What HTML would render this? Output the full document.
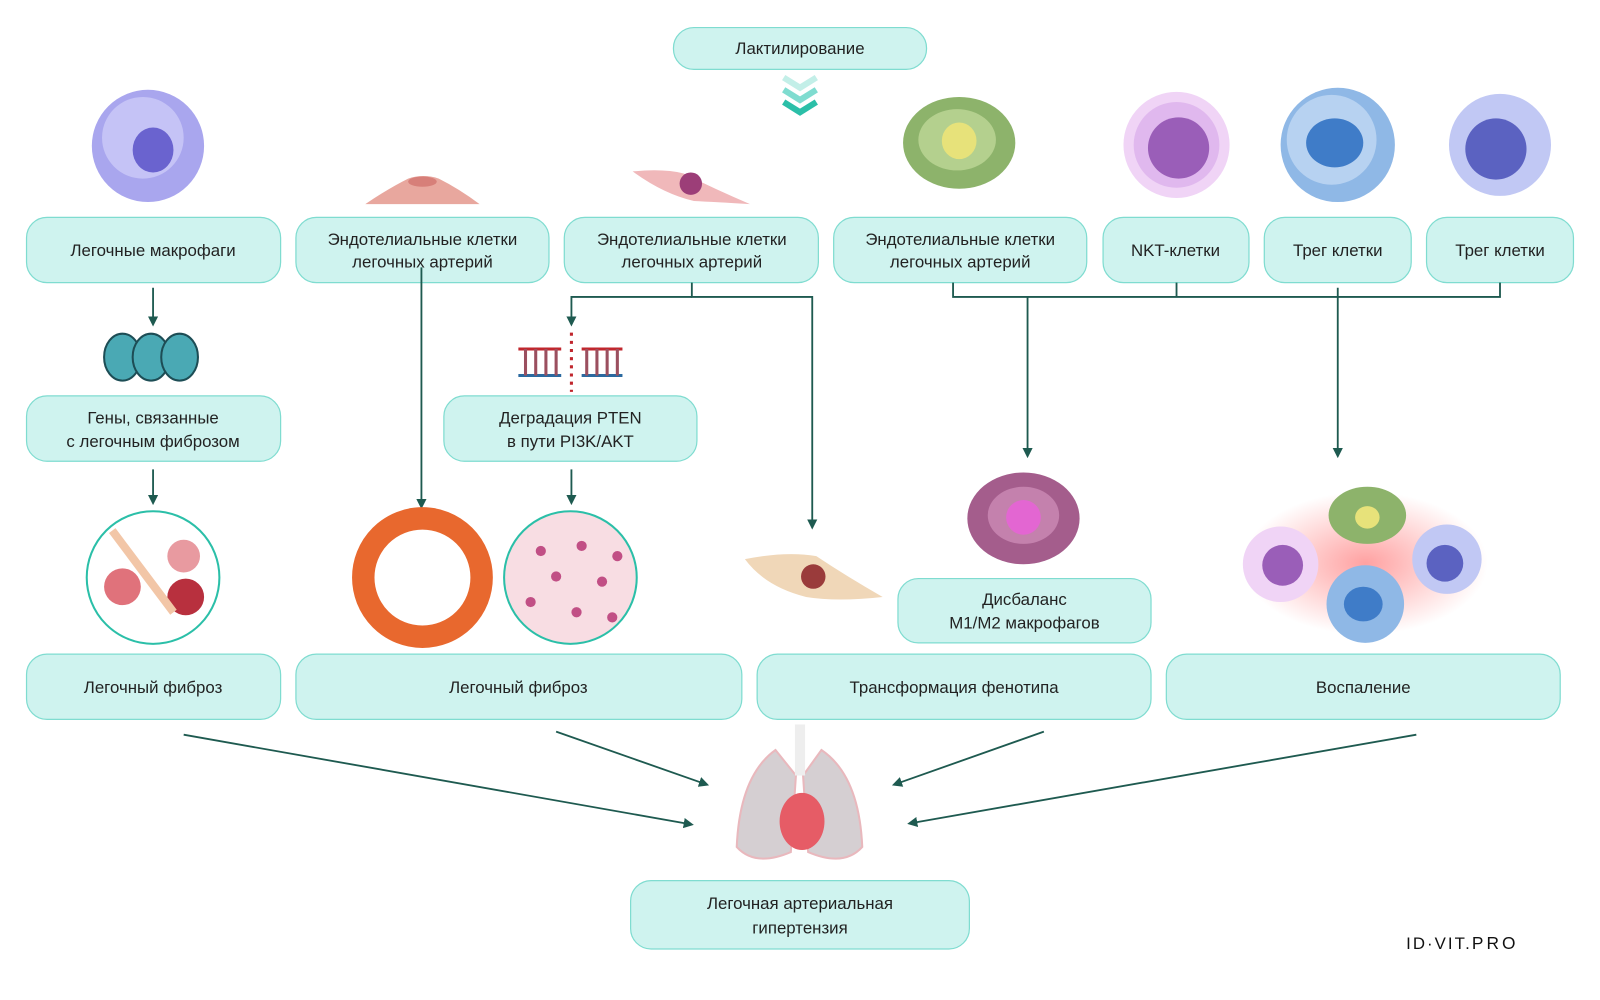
<!DOCTYPE html>
<html><head><meta charset="utf-8"><style>
html,body{margin:0;padding:0;background:#fff}
svg{display:block}
text{font-family:"Liberation Sans",sans-serif;fill:#222;font-size:16.5px}
</style></head><body>
<svg width="1600" height="1000" viewBox="0 0 1568 980" preserveAspectRatio="none" xmlns="http://www.w3.org/2000/svg">
<defs>
<marker id="a" markerWidth="10" markerHeight="10" refX="8" refY="5" orient="auto" markerUnits="userSpaceOnUse"><path d="M0,0 L10,5 L0,10 z" fill="#1e5a50"/></marker>
<radialGradient id="glow"><stop offset="0" stop-color="#f55" stop-opacity=".55"/><stop offset="1" stop-color="#f55" stop-opacity="0"/></radialGradient>
</defs>
<g fill="#cff3ef" stroke="#7fdcd0" stroke-width="1.2">
<rect x="660" y="27" width="248" height="41" rx="20"/>
<rect x="26" y="213" width="249" height="64" rx="20"/>
<rect x="290" y="213" width="248" height="64" rx="20"/>
<rect x="553" y="213" width="249" height="64" rx="20"/>
<rect x="817" y="213" width="248" height="64" rx="20"/>
<rect x="1081" y="213" width="143" height="64" rx="20"/>
<rect x="1239" y="213" width="144" height="64" rx="20"/>
<rect x="1398" y="213" width="144" height="64" rx="20"/>
<rect x="26" y="388" width="249" height="64" rx="20"/>
<rect x="435" y="388" width="248" height="64" rx="20"/>
<rect x="880" y="567" width="248" height="63" rx="20"/>
<rect x="26" y="641" width="249" height="64" rx="20"/>
<rect x="290" y="641" width="437" height="64" rx="20"/>
<rect x="742" y="641" width="386" height="64" rx="20"/>
<rect x="1143" y="641" width="386" height="64" rx="20"/>
<rect x="618" y="863" width="332" height="67" rx="20"/>
</g>
<g text-anchor="middle">
<text x="784" y="53">Лактилирование</text>
<text x="150" y="251">Легочные макрофаги</text>
<text x="414" y="240">Эндотелиальные клетки</text><text x="414" y="262">легочных артерий</text>
<text x="678" y="240">Эндотелиальные клетки</text><text x="678" y="262">легочных артерий</text>
<text x="941" y="240">Эндотелиальные клетки</text><text x="941" y="262">легочных артерий</text>
<text x="1152" y="251">NKT-клетки</text>
<text x="1311" y="251">Трег клетки</text>
<text x="1470" y="251">Трег клетки</text>
<text x="150" y="415">Гены, связанные</text><text x="150" y="438">с легочным фиброзом</text>
<text x="559" y="415">Деградация PTEN</text><text x="559" y="438">в пути PI3K/AKT</text>
<text x="1004" y="593">Дисбаланс</text><text x="1004" y="616">M1/M2 макрофагов</text>
<text x="150" y="679">Легочный фиброз</text>
<text x="508" y="679">Легочный фиброз</text>
<text x="935" y="679">Трансформация фенотипа</text>
<text x="1336" y="679">Воспаление</text>
<text x="784" y="891" font-size="18">Легочная артериальная</text><text x="784" y="915" font-size="18">гипертензия</text>
</g>
<g stroke="#1e5a50" stroke-width="1.8" fill="none">
<path d="M150 282V318" marker-end="url(#a)"/>
<path d="M150 460V493" marker-end="url(#a)"/>
<path d="M413 262V497" marker-end="url(#a)"/>
<path d="M678 277V291H796V517" marker-end="url(#a)"/>
<path d="M678 291H560V318" marker-end="url(#a)"/>
<path d="M560 460V493" marker-end="url(#a)"/>
<path d="M934 277V291H1470V277M1153 277V291"/>
<path d="M1007 291V447" marker-end="url(#a)"/>
<path d="M1311 282V447" marker-end="url(#a)"/>
<path d="M180 720L678 808" marker-end="url(#a)"/>
<path d="M545 717L693 769" marker-end="url(#a)"/>
<path d="M1023 717L876 769" marker-end="url(#a)"/>
<path d="M1388 720L891 807" marker-end="url(#a)"/>
</g>
<g fill="none" stroke-width="6" stroke-linejoin="miter">
<path d="M768 76L784 86L800 76" stroke="#c3efe8"/>
<path d="M768 88L784 98L800 88" stroke="#7fdcd0"/>
<path d="M768 100L784 110L800 100" stroke="#2bbfa8"/>
</g>
<circle cx="145" cy="143" r="55" fill="#a9a6ee"/><circle cx="140" cy="135" r="40" fill="#c5c3f6"/><ellipse cx="150" cy="147" rx="20" ry="22" fill="#6a63cf"/>
<path d="M358 200Q380 185 400 175Q415 170 430 175Q450 185 470 200Z" fill="#e8a79e"/><ellipse cx="414" cy="178" rx="14" ry="5" fill="#d77f79"/>
<path d="M620 168Q650 165 670 170Q700 185 735 200Q700 198 680 197Q650 190 620 168Z" fill="#f0b8ba"/><circle cx="677" cy="180" r="11" fill="#9c3e78"/>
<ellipse cx="940" cy="140" rx="55" ry="45" fill="#8db36b"/><ellipse cx="938" cy="137" rx="38" ry="30" fill="#b4d08e"/><ellipse cx="940" cy="138" rx="17" ry="18" fill="#e7e27a"/>
<circle cx="1153" cy="142" r="52" fill="#f0d4f6"/><circle cx="1153" cy="142" r="42" fill="#e0b8ee"/><circle cx="1155" cy="145" r="30" fill="#9a5eb8"/>
<circle cx="1311" cy="142" r="56" fill="#8fb8e6"/><circle cx="1305" cy="137" r="44" fill="#b7d2f1"/><ellipse cx="1308" cy="140" rx="28" ry="24" fill="#3f7cc8"/>
<circle cx="1470" cy="142" r="50" fill="#c1c8f4"/><circle cx="1466" cy="146" r="30" fill="#5b62c1"/>
<g fill="#4aa9b4" stroke="#1d4d55" stroke-width="2"><ellipse cx="120" cy="350" rx="18" ry="23"/><ellipse cx="148" cy="350" rx="18" ry="23"/><ellipse cx="176" cy="350" rx="18" ry="23"/></g>
<g stroke-width="3"><path d="M508 342H550M570 342H610" stroke="#c0262d"/><path d="M508 368H550M570 368H610" stroke="#2b6aa0"/>
<path d="M515 342V368M525 342V368M535 342V368M545 342V368M575 342V368M585 342V368M595 342V368M605 342V368" stroke="#9b4f5f"/>
<path d="M560 326V384" stroke="#c0262d" stroke-dasharray="3 5"/></g>
<circle cx="150" cy="566" r="65" fill="#fff" stroke="#2bbfa8" stroke-width="2"/>
<circle cx="120" cy="575" r="18" fill="#e0727b"/><circle cx="180" cy="545" r="16" fill="#e89aa0"/><circle cx="182" cy="585" r="18" fill="#b8303e"/><path d="M110 520Q140 560 170 600" stroke="#f2c6a7" stroke-width="8" fill="none"/>
<circle cx="414" cy="566" r="58" fill="none" stroke="#e8682e" stroke-width="22"/>
<circle cx="559" cy="566" r="65" fill="#f8dde3" stroke="#2bbfa8" stroke-width="2"/>
<g fill="#c14f85"><circle cx="530" cy="540" r="5"/><circle cx="570" cy="535" r="5"/><circle cx="545" cy="565" r="5"/><circle cx="590" cy="570" r="5"/><circle cx="520" cy="590" r="5"/><circle cx="565" cy="600" r="5"/><circle cx="600" cy="605" r="5"/><circle cx="605" cy="545" r="5"/></g>
<path d="M730 548Q770 540 800 545Q830 565 865 585Q820 590 790 585Q750 575 730 548Z" fill="#f0d7b8"/><circle cx="797" cy="565" r="12" fill="#9a3b3b"/>
<ellipse cx="1003" cy="508" rx="55" ry="45" fill="#a45d8c"/><ellipse cx="1003" cy="505" rx="35" ry="28" fill="#c481ad"/><ellipse cx="1003" cy="507" rx="17" ry="17" fill="#e366d2"/>
<ellipse cx="1338" cy="552" rx="120" ry="70" fill="url(#glow)"/>
<circle cx="1255" cy="553" r="37" fill="#f0d4f6"/><circle cx="1257" cy="554" r="20" fill="#9a5eb8"/>
<ellipse cx="1340" cy="505" rx="38" ry="28" fill="#8db36b"/><ellipse cx="1340" cy="507" rx="12" ry="11" fill="#e7e27a"/>
<circle cx="1418" cy="548" r="34" fill="#c1c8f4"/><circle cx="1416" cy="552" r="18" fill="#5b62c1"/>
<circle cx="1338" cy="592" r="38" fill="#8fb8e6"/><ellipse cx="1336" cy="592" rx="19" ry="17" fill="#3f7cc8"/>
<path d="M760 735Q725 760 722 830Q740 850 775 835L780 760Z" fill="#d5cfd2" stroke="#e9b8bd" stroke-width="2"/>
<path d="M805 735Q842 760 845 830Q827 850 792 835L787 760Z" fill="#d5cfd2" stroke="#e9b8bd" stroke-width="2"/>
<rect x="779" y="710" width="10" height="50" fill="#eeeeee"/>
<ellipse cx="786" cy="805" rx="22" ry="28" fill="#e65c66"/>
<text x="1378" y="930" font-size="28" style="fill:#111;letter-spacing:2px">ID·VIT.<tspan font-size="17" letter-spacing="3">PRO</tspan></text>
</svg>
</body></html>
